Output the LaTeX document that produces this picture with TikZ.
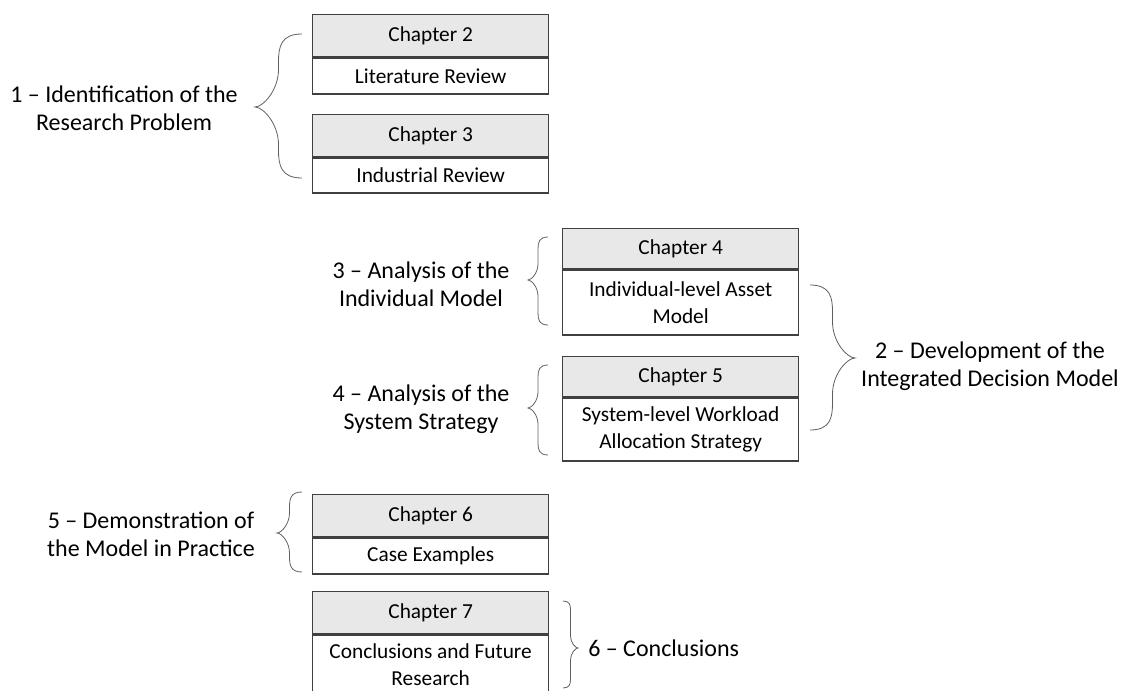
\documentclass[tikz,border=0pt]{standalone}
\usepackage{fontspec}
\setmainfont{Carlito}
\definecolor{boxline}{HTML}{404040}
\definecolor{headfill}{HTML}{E8E8E8}
\definecolor{curl}{HTML}{5F5F5F}
% curly brace: #1 tip x, #2 end x, #3 top y, #4 tip y, #5 bottom y
\newcommand\curlybrace[5]{%
  \pgfmathsetmacro\bxm{(#1+#2)/2}%
  \pgfmathsetmacro\bw{abs(#2-#1)}%
  \pgfmathsetmacro\bha{0.6*\bw}%
  \pgfmathsetmacro\bhb{0.8*\bw}%
  \pgfmathsetmacro\bxe{\bxm+0.1*(#2-\bxm)}%
  \pgfmathsetmacro\bxt{#1+0.35*(\bxm-#1)}%
  \draw[bracestyle] (#2,#3)
    .. controls (\bxe,#3) and (\bxm,#3+0.45*\bha) .. (\bxm,#3+\bha)
    -- (\bxm,#4-\bhb)
    .. controls (\bxm,#4-0.45*\bhb) and (\bxt,#4) .. (#1,#4)
    .. controls (\bxt,#4) and (\bxm,#4+0.45*\bhb) .. (\bxm,#4+\bhb)
    -- (\bxm,#5-\bha)
    .. controls (\bxm,#5-0.45*\bha) and (\bxe,#5) .. (#2,#5);}
\begin{document}
\begin{tikzpicture}[x=0.75pt,y=-0.75pt,
  cell/.style={draw=boxline, line width=1pt, minimum width=177pt, inner sep=0pt,
    anchor=north west, align=center, font=\fontsize{16}{20}\selectfont},
  head/.style={cell, fill=headfill},
  body/.style={cell, fill=white},
  lbl/.style={align=center, inner sep=0pt, font=\fontsize{18}{21}\selectfont},
  bracestyle/.style={draw=curl, line width=0.6pt}]
\useasboundingbox (0,0) rectangle (1122,691);

% chapter boxes
\node[head, minimum height=31.5pt] (c2h) at (312,14) {Chapter 2};
\node[body, minimum height=27pt] (c2b) at (c2h.south west) {Literature Review};
\node[head, minimum height=31.5pt] (c3h) at (312,114) {Chapter 3};
\node[body, minimum height=26.25pt] (c3b) at (c3h.south west) {Industrial Review};

\node[head, minimum height=30pt] (c4h) at (562,228) {Chapter 4};
\node[body, minimum height=48.75pt] (c4b) at (c4h.south west) {Individual-level Asset\\Model};
\node[head, minimum height=30pt] (c5h) at (562,356) {Chapter 5};
\node[body, minimum height=47.25pt] (c5b) at (c5h.south west) {System-level Workload\\Allocation Strategy};

\node[head, minimum height=31.5pt] (c6h) at (312,494) {Chapter 6};
\node[body, minimum height=27pt] (c6b) at (c6h.south west) {Case Examples};
\node[head, minimum height=31.5pt] (c7h) at (312,591) {Chapter 7};
\node[body, minimum height=45pt] (c7b) at (c7h.south west) {Conclusions and Future\\Research};

% research phases
\node[lbl] (p1) at (124,108) {1 – Identification of the\\Research Problem};
\node[lbl] (p2) at (990,366) {2 – Development of the\\Integrated Decision Model};
\node[lbl] (p3) at (421,284) {3 – Analysis of the\\Individual Model};
\node[lbl] (p4) at (421,409) {4 – Analysis of the\\System Strategy};
\node[lbl] (p5) at (151,534) {5 – Demonstration of\\the Model in Practice};
\node[lbl, anchor=west] (p6) at (588,648) {6 – Conclusions};

% braces grouping chapters
\curlybrace{255}{302}{34}{107}{178}
\curlybrace{528}{548}{237}{280}{325}
\curlybrace{528}{548}{365}{408}{455}
\curlybrace{277}{302}{492}{533}{572}
\curlybrace{855}{810}{285}{358}{430}
\curlybrace{578}{563}{601}{648}{688}
\end{tikzpicture}
\end{document}
